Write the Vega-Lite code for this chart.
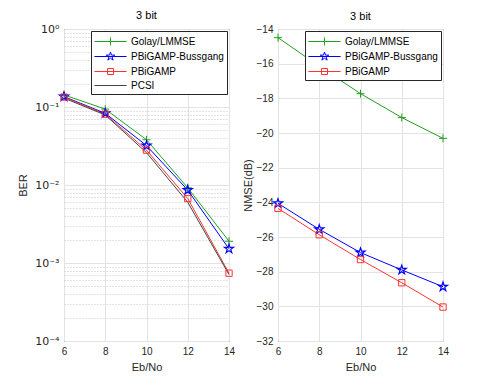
{
  "$schema": "https://vega.github.io/schema/vega-lite/v6.json",
  "background": "white",
  "padding": {"left": 17, "top": 9, "right": 5, "bottom": 5},
  "datasets": {
    "ber": [
      {"s": "Golay/LMMSE", "x": 6, "v": 0.143},
      {"s": "Golay/LMMSE", "x": 8, "v": 0.094},
      {"s": "Golay/LMMSE", "x": 10, "v": 0.038},
      {"s": "Golay/LMMSE", "x": 12, "v": 0.0092},
      {"s": "Golay/LMMSE", "x": 14, "v": 0.0019},
      {"s": "PBiGAMP-Bussgang", "x": 6, "v": 0.136},
      {"s": "PBiGAMP-Bussgang", "x": 8, "v": 0.083},
      {"s": "PBiGAMP-Bussgang", "x": 10, "v": 0.032},
      {"s": "PBiGAMP-Bussgang", "x": 12, "v": 0.0086},
      {"s": "PBiGAMP-Bussgang", "x": 14, "v": 0.00152},
      {"s": "PBiGAMP", "x": 6, "v": 0.134},
      {"s": "PBiGAMP", "x": 8, "v": 0.081},
      {"s": "PBiGAMP", "x": 10, "v": 0.028},
      {"s": "PBiGAMP", "x": 12, "v": 0.0067},
      {"s": "PBiGAMP", "x": 14, "v": 0.00074},
      {"s": "PCSI", "x": 6, "v": 0.13},
      {"s": "PCSI", "x": 8, "v": 0.079},
      {"s": "PCSI", "x": 10, "v": 0.026},
      {"s": "PCSI", "x": 12, "v": 0.006},
      {"s": "PCSI", "x": 14, "v": 0.00071}
    ],
    "nmse": [
      {"s": "Golay/LMMSE", "x": 6, "v": -14.5},
      {"s": "Golay/LMMSE", "x": 8, "v": -16.15},
      {"s": "Golay/LMMSE", "x": 10, "v": -17.73},
      {"s": "Golay/LMMSE", "x": 12, "v": -19.11},
      {"s": "Golay/LMMSE", "x": 14, "v": -20.31},
      {"s": "PBiGAMP-Bussgang", "x": 6, "v": -24.06},
      {"s": "PBiGAMP-Bussgang", "x": 8, "v": -25.56},
      {"s": "PBiGAMP-Bussgang", "x": 10, "v": -26.9},
      {"s": "PBiGAMP-Bussgang", "x": 12, "v": -27.9},
      {"s": "PBiGAMP-Bussgang", "x": 14, "v": -28.87},
      {"s": "PBiGAMP", "x": 6, "v": -24.35},
      {"s": "PBiGAMP", "x": 8, "v": -25.87},
      {"s": "PBiGAMP", "x": 10, "v": -27.3},
      {"s": "PBiGAMP", "x": 12, "v": -28.64},
      {"s": "PBiGAMP", "x": 14, "v": -30.04}
    ]
  },
  "config": {
    "font": "Liberation Sans",
    "view": {"stroke": "#262626", "strokeWidth": 1},
    "title": {"fontSize": 11, "fontWeight": "normal", "color": "#000000", "offset": 2},
    "axis": {
      "labelFont": "Liberation Sans",
      "labelFontSize": 10,
      "labelColor": "#262626",
      "titleFont": "Liberation Sans",
      "titleFontSize": 11,
      "titleFontWeight": "normal",
      "titleColor": "#262626",
      "domain": false,
      "ticks": false,
      "labelPadding": 5,
      "labelOverlap": false,
      "labelBound": false,
      "labelFlush": false,
      "gridColor": "#e3e3e3",
      "gridWidth": 1
    },
    "axisX": {"labelPadding": 5, "titlePadding": 5},
    "legend": {
      "fillColor": "white",
      "strokeColor": "#262626",
      "padding": 3,
      "rowPadding": 1,
      "labelFont": "Liberation Sans",
      "labelFontSize": 10,
      "labelColor": "#000000",
      "labelOffset": 13,
      "symbolOffset": 9,
      "symbolSize": 196,
      "symbolStrokeWidth": 1,
      "symbolOpacity": 1,
      "offset": 2
    }
  },
  "hconcat": [
    {
      "width": 165,
      "height": 312,
      "title": "3 bit",
      "data": {"name": "ber"},
      "encoding": {
        "x": {"field": "x", "type": "quantitative", "scale": {"domain": [6, 14], "nice": false}, "axis": {"values": [6, 8, 10, 12, 14], "title": "Eb/No"}},
        "y": {"field": "v", "type": "quantitative", "scale": {"type": "log", "domain": [0.0001, 1], "nice": false},
          "axis": {
            "title": "BER",
            "titlePadding": 6,
            "labelFont": "DejaVu Sans",
            "labelFontSize": 11,
            "values": [0.0001, 0.0002, 0.0003, 0.0004, 0.0005, 0.0006, 0.0007, 0.0008, 0.0009, 0.001, 0.002, 0.003, 0.004, 0.005, 0.006, 0.007, 0.008, 0.009, 0.01, 0.02, 0.03, 0.04, 0.05, 0.06, 0.07, 0.08, 0.09, 0.1, 0.2, 0.3, 0.4, 0.5, 0.6, 0.7, 0.8, 0.9, 1],
            "labelExpr": "abs(log(datum.value)/LN10 - round(log(datum.value)/LN10)) < 0.001 ? ['10⁰','10⁻¹','10⁻²','10⁻³','10⁻⁴'][-round(log(datum.value)/LN10)] : ''",
            "gridDash": {"condition": {"test": "abs(log(datum.value)/LN10 - round(log(datum.value)/LN10)) > 0.001", "value": [1, 2]}, "value": []},
            "gridColor": {"condition": {"test": "abs(log(datum.value)/LN10 - round(log(datum.value)/LN10)) > 0.001", "value": "#c8c8c8"}, "value": "#e3e3e3"}
          }},
        "color": {
          "field": "s", "type": "nominal",
          "scale": {"domain": ["Golay/LMMSE", "PBiGAMP-Bussgang", "PBiGAMP", "PCSI"], "range": ["#22a022", "#0000ff", "#ff3333", "#444444"]},
          "legend": {"title": null, "orient": "top-right"}
        }
      },
      "layer": [
        {"mark": {"type": "line", "strokeWidth": 1}},
        {
          "mark": {"type": "point", "filled": false, "strokeWidth": 1, "opacity": 0},
          "encoding": {
            "shape": {"field": "s", "type": "nominal",
              "legend": {"title": null, "orient": "top-right"},
              "scale": {"domain": ["Golay/LMMSE", "PBiGAMP-Bussgang", "PBiGAMP", "PCSI"], "range": [
                "M-2.3,0L2.3,0M0,-0.57L0,0.57",
                "M-2.3,0L2.3,0M0,-0.64L0.144,-0.198L0.609,-0.198L0.233,0.076L0.376,0.518L0,0.245L-0.376,0.518L-0.233,0.076L-0.609,-0.198L-0.144,-0.198Z",
                "M-2.3,0L2.3,0M-0.43,-0.43L0.43,-0.43L0.43,0.43L-0.43,0.43Z",
                "M-2.3,0L2.3,0"]}}
          }
        },
        {
          "transform": [{"filter": "datum.s === 'Golay/LMMSE'"}],
          "mark": {"type": "point", "filled": false, "strokeWidth": 1, "opacity": 1, "shape": "M-1,0L1,0M0,-1L0,1", "size": 64}
        },
        {
          "transform": [{"filter": "datum.s === 'PBiGAMP-Bussgang'"}],
          "mark": {"type": "point", "filled": false, "strokeWidth": 1.2, "opacity": 1, "shape": "M0,-1L0.2245,-0.309L0.9511,-0.309L0.3633,0.118L0.5878,0.809L0,0.382L-0.5878,0.809L-0.3633,0.118L-0.9511,-0.309L-0.2245,-0.309Z", "size": 90}
        },
        {
          "transform": [{"filter": "datum.s === 'PBiGAMP'"}],
          "mark": {"type": "point", "filled": false, "strokeWidth": 1, "opacity": 1, "shape": "square", "size": 40}
        }
      ]
    },
    {
      "width": 165,
      "height": 312,
      "title": "3 bit",
      "data": {"name": "nmse"},
      "encoding": {
        "x": {"field": "x", "type": "quantitative", "scale": {"domain": [6, 14], "nice": false}, "axis": {"values": [6, 8, 10, 12, 14], "title": "Eb/No"}},
        "y": {"field": "v", "type": "quantitative", "scale": {"domain": [-32, -14], "nice": false, "zero": false},
          "axis": {"title": "NMSE(dB)", "titlePadding": 3, "values": [-32, -30, -28, -26, -24, -22, -20, -18, -16, -14]}},
        "color": {
          "field": "s", "type": "nominal",
          "scale": {"domain": ["Golay/LMMSE", "PBiGAMP-Bussgang", "PBiGAMP"], "range": ["#22a022", "#0000ff", "#ff3333"]},
          "legend": {"title": null, "orient": "top-right"}
        }
      },
      "layer": [
        {"mark": {"type": "line", "strokeWidth": 1}},
        {
          "mark": {"type": "point", "filled": false, "strokeWidth": 1, "opacity": 0},
          "encoding": {
            "shape": {"field": "s", "type": "nominal",
              "legend": {"title": null, "orient": "top-right"},
              "scale": {"domain": ["Golay/LMMSE", "PBiGAMP-Bussgang", "PBiGAMP"], "range": [
                "M-2.3,0L2.3,0M0,-0.57L0,0.57",
                "M-2.3,0L2.3,0M0,-0.64L0.144,-0.198L0.609,-0.198L0.233,0.076L0.376,0.518L0,0.245L-0.376,0.518L-0.233,0.076L-0.609,-0.198L-0.144,-0.198Z",
                "M-2.3,0L2.3,0M-0.43,-0.43L0.43,-0.43L0.43,0.43L-0.43,0.43Z"]}}
          }
        },
        {
          "transform": [{"filter": "datum.s === 'Golay/LMMSE'"}],
          "mark": {"type": "point", "filled": false, "strokeWidth": 1, "opacity": 1, "shape": "M-1,0L1,0M0,-1L0,1", "size": 64}
        },
        {
          "transform": [{"filter": "datum.s === 'PBiGAMP-Bussgang'"}],
          "mark": {"type": "point", "filled": false, "strokeWidth": 1.2, "opacity": 1, "shape": "M0,-1L0.2245,-0.309L0.9511,-0.309L0.3633,0.118L0.5878,0.809L0,0.382L-0.5878,0.809L-0.3633,0.118L-0.9511,-0.309L-0.2245,-0.309Z", "size": 90}
        },
        {
          "transform": [{"filter": "datum.s === 'PBiGAMP'"}],
          "mark": {"type": "point", "filled": false, "strokeWidth": 1, "opacity": 1, "shape": "square", "size": 40}
        }
      ]
    }
  ],
  "resolve": {
    "scale": {"color": "independent", "shape": "independent"},
    "legend": {"color": "independent", "shape": "independent"}
  },
  "spacing": 4
}
